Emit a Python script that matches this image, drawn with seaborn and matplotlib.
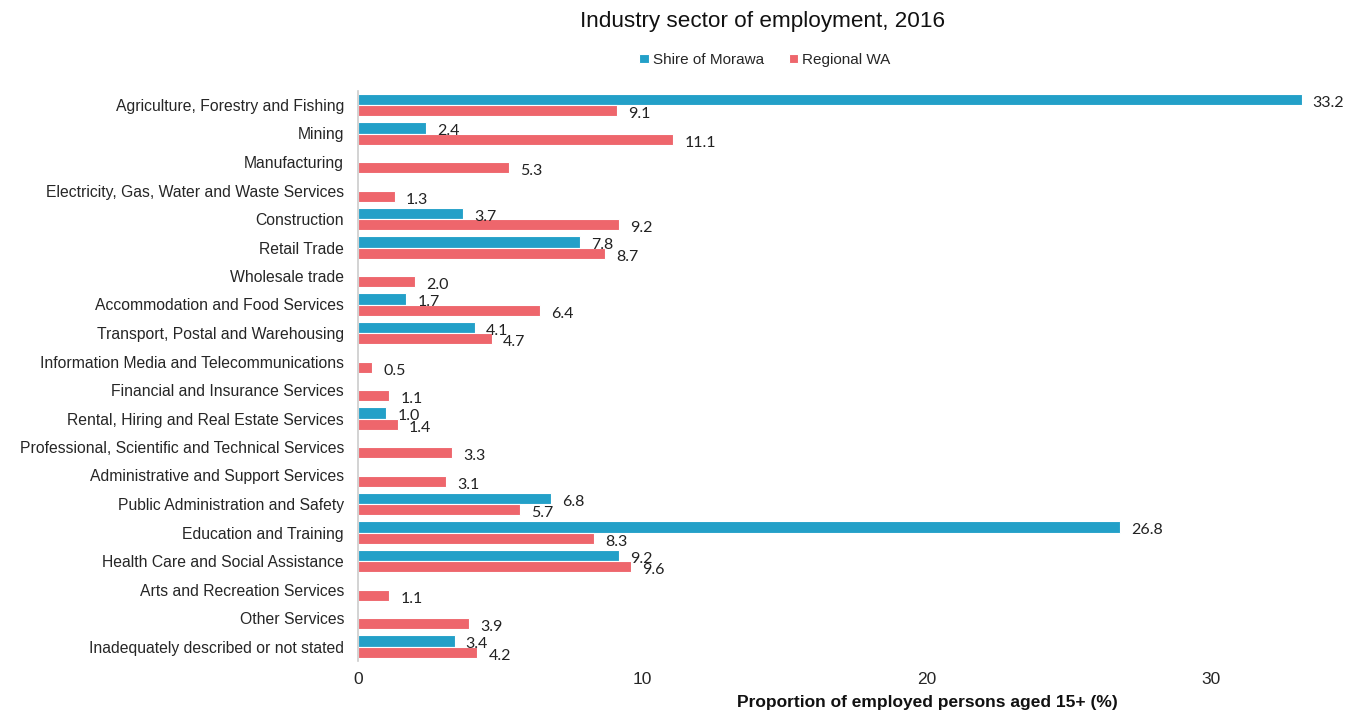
import numpy as np
import pandas as pd
import matplotlib
matplotlib.use("Agg")
import matplotlib.pyplot as plt
import seaborn as sns

categories = [
    "Agriculture, Forestry and Fishing", "Mining", "Manufacturing",
    "Electricity, Gas, Water and Waste Services", "Construction", "Retail Trade",
    "Wholesale trade", "Accommodation and Food Services",
    "Transport, Postal and Warehousing", "Information Media and Telecommunications",
    "Financial and Insurance Services", "Rental, Hiring and Real Estate Services",
    "Professional, Scientific and Technical Services",
    "Administrative and Support Services", "Public Administration and Safety",
    "Education and Training", "Health Care and Social Assistance",
    "Arts and Recreation Services", "Other Services",
    "Inadequately described or not stated",
]
nan = np.nan
morawa = [33.2, 2.4, nan, nan, 3.7, 7.8, nan, 1.7, 4.1, nan,
          nan, 1.0, nan, nan, 6.8, 26.8, 9.2, nan, nan, 3.4]
regional = [9.1, 11.1, 5.3, 1.3, 9.2, 8.7, 2.0, 6.4, 4.7, 0.5,
            1.1, 1.4, 3.3, 3.1, 5.7, 8.3, 9.6, 1.1, 3.9, 4.2]
series_names = ["Shire of Morawa", "Regional WA"]
xticks = [0, 10, 20, 30]

df = pd.DataFrame({
    "Industry": categories * 2,
    "Value": morawa + regional,
    "Series": [series_names[0]] * len(categories) + [series_names[1]] * len(categories),
})
df["Value"] = df["Value"].fillna(0.0)

sns.set_theme(style="white")
plt.rcParams["font.family"] = ["Liberation Sans", "DejaVu Sans"]

W, H = 1346, 711
fig = plt.figure(figsize=(W / 100, H / 100), dpi=100)
ax = fig.add_axes([358 / W, 1 - 660.75 / H, (1330 - 358) / W, 570 / H])

colors = ["#23a0c8", "#ee666c"]
sns.barplot(data=df, y="Industry", x="Value", hue="Series", order=categories,
            hue_order=series_names, palette=colors, width=0.8, orient="h",
            ax=ax, legend=True, saturation=1, linewidth=0.8, edgecolor="white")

ax.set_xlim(0, 34.2)
ax.set_ylim(19.5, -0.5)
ax.set_xticks(xticks)
ax.set_xticklabels([str(t) for t in xticks], fontsize=12.5)
ax.tick_params(axis="x", length=0, pad=8)
ax.tick_params(axis="y", length=0, pad=10, labelsize=11.3)
ax.set_xlabel("")
ax.set_ylabel("")
for s in ["top", "right", "bottom"]:
    ax.spines[s].set_visible(False)
ax.spines["left"].set_color("#cccccc")
ax.spines["left"].set_linewidth(1.2)

vals = [morawa, regional]
for cont, v in zip(ax.containers, vals):
    for bar, x in zip(cont, v):
        if np.isnan(x):
            continue
        yc = bar.get_y() + bar.get_height() / 2
        ax.annotate(f"{x:.1f}", xy=(bar.get_width(), yc), xytext=(8, -2.6),
                    textcoords="offset points", ha="left", va="center",
                    fontsize=11.5, family=["Lato", "DejaVu Sans"], color="#222222")

leg = ax.legend(loc="center", bbox_to_anchor=((765 - 358) / (1330 - 358), 1 + (90.75 - 60) / 570),
                ncol=2, frameon=False, fontsize=11, handlelength=0.6, handleheight=0.6,
                handletextpad=0.3, columnspacing=1.6)

fig.text(763 / W, 1 - 22 / H, "Industry sector of employment, 2016",
         ha="center", va="center", fontsize=16.2, color="#111111")
fig.text(927 / W, 1 - 702 / H, "Proportion of employed persons aged 15+ (%)",
         ha="center", va="center", fontsize=12.5, fontweight="bold", color="#111111")

fig.savefig("out.png", dpi=100)
